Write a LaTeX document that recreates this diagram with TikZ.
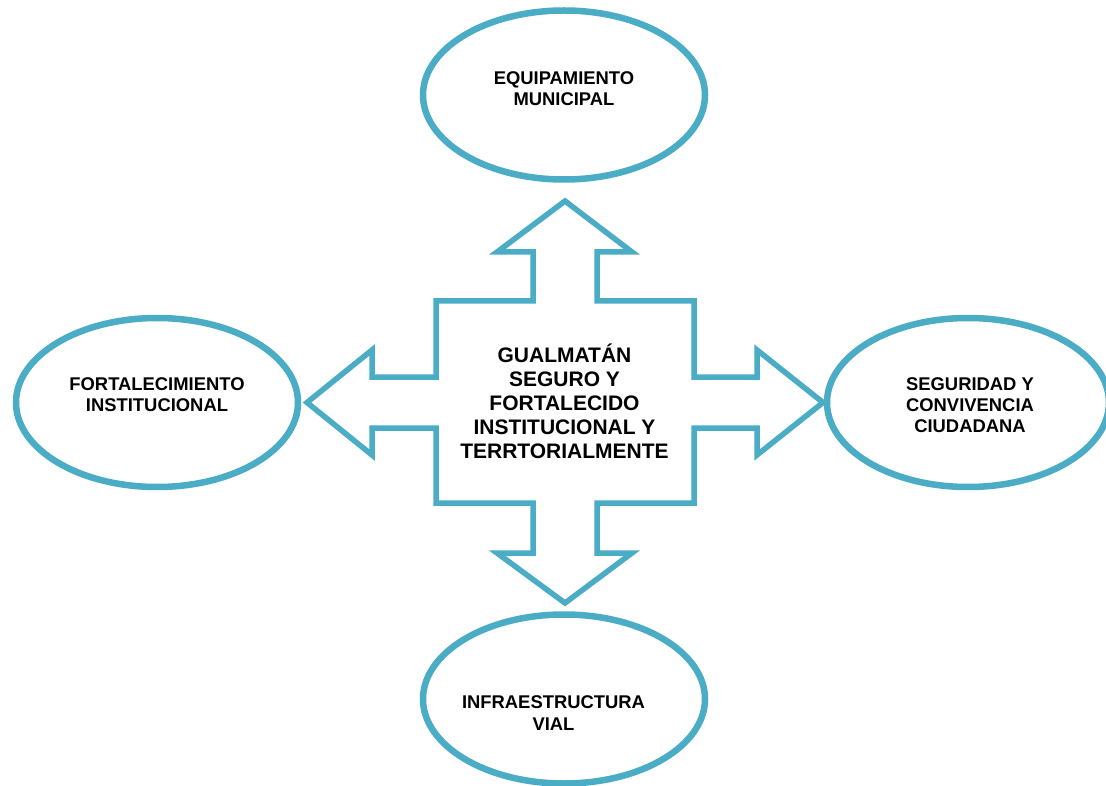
\documentclass[tikz,border=0pt]{standalone}
\usepackage{fontspec}
\setmainfont{Liberation Sans}
\usetikzlibrary{shapes.geometric}
\definecolor{teal}{HTML}{4BACC6}
\tikzset{
  oval/.style={ellipse, draw=teal, line width=6.5pt, minimum width=282pt, minimum height=169pt, inner sep=0pt},
  lbl/.style={align=center, font=\fontsize{18.4}{21.2}\selectfont\bfseries, inner sep=0pt},
  mainlbl/.style={align=center, font=\fontsize{21}{24}\selectfont\bfseries, inner sep=0pt},
  cross/.style={draw=teal, line width=5.5pt, line join=miter}
}
\begin{document}
\begin{tikzpicture}[x=1pt,y=-1pt]
\clip (0,0) rectangle (1106,786);
\fill[white] (0,0) rectangle (1106,786);
% ellipses
\node[oval] (top) at (564,95) {};
\node[oval] (left) at (157,402.5) {};
\node[oval] (right) at (968,402.5) {};
\node[oval] (bottom) at (564,699) {};
% labels
\node[lbl] (toplbl) at (564,88.5) {EQUIPAMIENTO\\MUNICIPAL};
\node[lbl] (leftlbl) at (157,394.5) {FORTALECIMIENTO\\INSTITUCIONAL};
\node[lbl] (rightlbl) at (970,405) {SEGURIDAD Y\\CONVIVENCIA\\CIUDADANA};
\node[lbl] (bottomlbl) at (553.5,713) {INFRAESTRUCTURA\\VIAL};
% central cross-shaped arrow
\draw[cross] (436,301) -- (533,301) -- (533,252) -- (497,252) -- (565,201) -- (632,252) -- (597,252) -- (597,301) -- (694,301) -- (694,377) -- (757,377) -- (757,350) -- (823,402.5) -- (757,455) -- (757,428) -- (694,428) -- (694,503) -- (597,503) -- (597,553) -- (632,553) -- (565,603) -- (497,553) -- (533,553) -- (533,503) -- (436,503) -- (436,428) -- (372,428) -- (372,455) -- (307,402.5) -- (372,350) -- (372,377) -- (436,377) -- cycle;
\node[mainlbl] (center) at (564.5,401.5) {GUALMATÁN\\SEGURO Y\\FORTALECIDO\\INSTITUCIONAL Y\\TERRTORIALMENTE};
\end{tikzpicture}
\end{document}
